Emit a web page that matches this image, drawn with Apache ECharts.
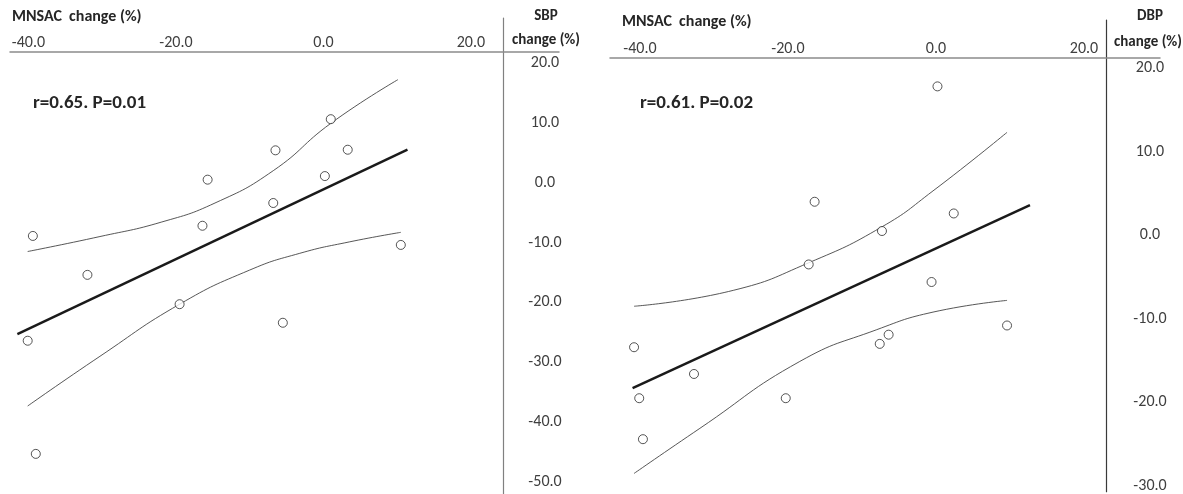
<!DOCTYPE html>
<html><head><meta charset="utf-8">
<script src="https://cdn.jsdelivr.net/npm/echarts@6/dist/echarts.min.js"></script>
<style>html,body{margin:0;padding:0;background:#fff}#c{width:1183px;height:494px}</style>
</head><body><div id="c"></div>
<script>
// ---- data ----
const xTicks = [-40, -20, 0, 20];
const sbpTicks = [-50, -40, -30, -20, -10, 0, 10, 20];
const dbpTicks = [-30, -20, -10, 0, 10, 20];

const sbpPoints = [[-39.4,-8.9],[-32.0,-15.4],[-16.4,-7.2],[-15.7,0.5],[-6.8,-3.4],[-6.5,5.4],[0.2,1.1],
  [1.0,10.6],[3.3,5.5],[10.5,-10.4],[-19.5,-20.3],[-5.5,-23.4],[-40.1,-26.4],[-39.0,-45.3]];
const sbpFit = [[-41.5,-25.3],[11.4,5.5]];
const sbpUpper = [[-40.1,-11.5],[-30.3,-9.0],[-22.0,-6.6],[-14.7,-3.4],[-6.8,2.0],[1.0,9.9],[10.1,17.2]];
const sbpLower = [[-40.1,-37.3],[-30.3,-29.0],[-19.5,-20.3],[-10.0,-14.6],[-3.2,-11.8],[3.5,-9.9],[10.5,-8.3]];

const dbpPoints = [[0.2,17.8],[-16.4,4.0],[2.4,2.6],[-7.3,0.5],[-17.2,-3.5],[-0.6,-5.6],[9.6,-10.8],
  [-6.4,-11.9],[-7.6,-13.0],[-40.8,-13.4],[-32.7,-16.6],[-40.1,-19.5],[-20.3,-19.5],[-39.6,-24.4]];
const dbpFit = [[-41.0,-18.3],[12.7,3.6]];
const dbpUpper = [[-40.8,-8.5],[-27.4,-6.6],[-17.2,-3.3],[-7.3,1.0],[-0.4,5.3],[9.6,12.3]];
const dbpLower = [[-40.8,-28.5],[-31.9,-23.1],[-18.4,-15.1],[-8.0,-11.3],[-0.4,-9.2],[9.6,-7.8]];

const sbpStat = 'r=0.65. P=0.01';
const dbpStat = 'r=0.61. P=0.02';
const xTitle = 'MNSAC  change (%)';

// ---- chart ----
const FONT = 'Carlito, Lato, sans-serif';
const labelColor = '#404040';
const fmt = v => Number(v).toFixed(1);

function xAx(gi, min, max, offset) {
  return {
    gridIndex: gi, type: 'value', position: 'top', min, max, offset,
    axisLine: { show: true, onZero: false, lineStyle: { color: '#8c8c8c', width: 1.5 } },
    axisTick: { show: false }, splitLine: { show: false },
    axisLabel: { customValues: xTicks, formatter: fmt, margin: 1, fontFamily: FONT, fontSize: 16, color: labelColor }
  };
}
function yAx(gi, min, max, offset, ticks, lineColor, margin) {
  return {
    gridIndex: gi, type: 'value', position: 'right', min, max, offset,
    axisLine: { show: true, onZero: false, lineStyle: { color: lineColor, width: 1.2 } },
    axisTick: { show: false }, splitLine: { show: false },
    axisLabel: { customValues: ticks, formatter: fmt, align: 'center', margin, fontFamily: FONT, fontSize: 16, color: labelColor }
  };
}
function scat(i, data) {
  return { type: 'scatter', xAxisIndex: i, yAxisIndex: i, data, symbol: 'circle', symbolSize: 9, z: 5,
    itemStyle: { color: '#fff', borderColor: '#2a2a2a', borderWidth: 1 } };
}
function fit(i, data) {
  return { type: 'line', xAxisIndex: i, yAxisIndex: i, data, showSymbol: false, symbol: 'none',
    lineStyle: { color: '#1a1a1a', width: 2.5 } };
}
function band(i, data) {
  return { type: 'line', xAxisIndex: i, yAxisIndex: i, data, showSymbol: false, symbol: 'none',
    smooth: 0.5, lineStyle: { color: '#444', width: 0.9 } };
}
function txt(x, y, text, opts) {
  return { type: 'text', x, y, silent: true,
    style: Object.assign({ text, fill: '#262626', font: 'bold 15px ' + FONT, textVerticalAlign: 'middle' }, opts || {}) };
}

const chart = echarts.init(document.getElementById('c'), null, { renderer: 'canvas' });
chart.setOption({
  animation: false,
  backgroundColor: '#fff',
  grid: [
    { left: 10, top: 18, width: 549, height: 476 },
    { left: 610, top: 20, width: 550, height: 474 }
  ],
  xAxis: [ xAx(0, -42.5, 31.95, -34), xAx(1, -44.05, 30.27, -38) ],
  yAxis: [ yAx(0, -52.0, 27.5, -56, sbpTicks, '#808080', 42), yAx(1, -30.69, 25.74, -54, dbpTicks, '#3a3a3a', 44) ],
  series: [
    band(0, sbpUpper), band(0, sbpLower), fit(0, sbpFit), scat(0, sbpPoints),
    band(1, dbpUpper), band(1, dbpLower), fit(1, dbpFit), scat(1, dbpPoints)
  ],
  graphic: [
    txt(12, 17, xTitle, { font: 'bold 16px ' + FONT }),
    txt(622, 22, xTitle, { font: 'bold 16px ' + FONT }),
    txt(546, 16, 'SBP', { textAlign: 'center' }),
    txt(546, 40, 'change (%)', { textAlign: 'center' }),
    txt(1150, 16, 'DBP', { textAlign: 'center' }),
    txt(1148, 42, 'change (%)', { textAlign: 'center' }),
    txt(33, 103, sbpStat, { font: 'bold 19px ' + FONT }),
    txt(640, 103, dbpStat, { font: 'bold 19px ' + FONT })
  ]
});
</script></body></html>
